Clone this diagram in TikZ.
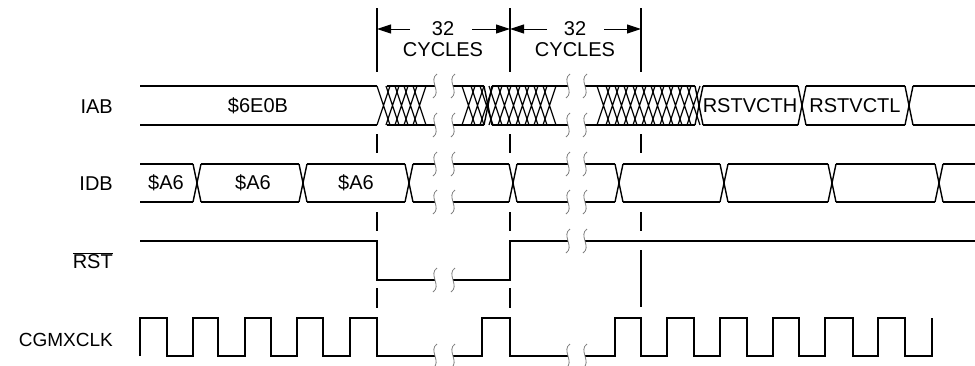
\documentclass[tikz,border=0pt]{standalone}
\usepackage{fontspec}
\setmainfont{Liberation Sans}
\usetikzlibrary{arrows.meta}
\newcommand\busline[4]{\draw[sig] (#1,#3) -- (#2,#3) (#1,#4) -- (#2,#4);}
\newcommand\busx[3]{\draw[trn] (#1,#2) -- ({#1+8},#3) (#1,#3) -- ({#1+8},#2);}
\newcommand\hatchreg[4]{\foreach \i in {0,...,#2}{\draw[hat] ({#1+9*\i},#3) -- ({#1+9*\i+13},#4) ({#1+9*\i},#4) -- ({#1+9*\i+13},#3);}}
\newcommand\brkmark[2]{\draw[brk] ({#1+2},{#2-12}) .. controls ({#1-7},{#2-6}) and ({#1+7},{#2+6}) .. ({#1-2},{#2+12});}
\begin{document}
\begin{tikzpicture}[x=1pt,y=-1pt,
  sig/.style={line width=1.9pt, line cap=butt, line join=miter},
  trn/.style={line width=1.4pt},
  hat/.style={line width=1.2pt},
  guide/.style={line width=1.1pt},
  brk/.style={line width=0.8pt, draw=gray},
  lbl/.style={font=\fontsize{20}{22}\selectfont, inner sep=0pt},
  arr/.style={line width=1pt, -{Triangle[length=14pt,width=9pt]}}]
\useasboundingbox (0,0) rectangle (975,365);

% labels
\node[lbl, anchor=east] (lIAB) at (113,107) {IAB};
\node[lbl, anchor=east] (lIDB) at (113,184) {IDB};
\node[lbl, anchor=east] (lRST) at (113,261) {$\overline{\mbox{RST}}$};
\node[lbl, anchor=east, font=\fontsize{19}{22}\selectfont] (lCLK) at (113,340) {CGMXCLK};

% cycle annotations
\node[lbl] (n32a) at (443,29) {32};
\node[lbl] (cya) at (443,50) {CYCLES};
\node[lbl] (n32b) at (575,29) {32};
\node[lbl] (cyb) at (575,50) {CYCLES};
\coordinate (a1s) at (410,29); \coordinate (a1e) at (377,29);
\coordinate (a2s) at (472,29); \coordinate (a2e) at (510,29);
\coordinate (a3s) at (547,29); \coordinate (a3e) at (510,29);
\coordinate (a4s) at (604,29); \coordinate (a4e) at (641,29);
\draw[arr] (a1s) -- (a1e);
\draw[arr] (a2s) -- (a2e);
\draw[arr] (a3s) -- (a3e);
\draw[arr] (a4s) -- (a4e);

% guide lines
\foreach \x in {377,510,641}{
  \draw[guide] (\x,8) -- (\x,72);
  \draw[guide] (\x,134) -- (\x,153);
  \draw[guide] (\x,212) -- (\x,231);
}
\draw[guide] (377,288) -- (377,308);
\draw[guide] (510,288) -- (510,308);
\draw[guide] (641,250) -- (641,307);

% IAB
\busline{140}{377}{86}{125}
\busline{387}{435}{86}{125}
\busline{453}{484}{86}{125}
\busline{492}{568}{86}{125}
\busline{585}{695}{86}{125}
\busline{703}{798}{86}{125}
\busline{806}{905}{86}{125}
\busline{913}{975}{86}{125}
\hatchreg{377}{4}{86}{125}
\hatchreg{462}{9}{86}{125}
\hatchreg{597}{10}{86}{125}
\busx{484}{86}{125}
\busx{695}{86}{125}
\busx{798}{86}{125}
\busx{905}{86}{125}
\node[lbl] (t1) at (258,106) {\$6E0B};
\node[lbl] (t5) at (750,106) {RSTVCTH};
\node[lbl] (t6) at (855,106) {RSTVCTL};

% IDB
\busline{140}{193}{164}{202}
\busline{201}{299}{164}{202}
\busline{307}{405}{164}{202}
\busline{413}{435}{164}{202}
\busline{453}{509}{164}{202}
\busline{517}{568}{164}{202}
\busline{585}{615}{164}{202}
\busline{623}{720}{164}{202}
\busline{728}{828}{164}{202}
\busline{836}{935}{164}{202}
\busline{943}{975}{164}{202}
\foreach \x in {193,299,405,509,615,720,828,935}{\busx{\x}{164}{202}}
\node[lbl] (t2) at (166,183) {\$A6};
\node[lbl] (t3) at (253,183) {\$A6};
\node[lbl] (t4) at (356,183) {\$A6};

% RST
\draw[sig] (140,241) -- (377,241) -- (377,280) -- (435,280);
\draw[sig] (453,280) -- (510,280) -- (510,241) -- (568,241);
\draw[sig] (585,241) -- (975,241);

% CGMXCLK
\draw[sig] (140,356) -- (140,318) -- (167,318) -- (167,356) -- (193,356) -- (193,318)
  -- (218,318) -- (218,356) -- (245,356) -- (245,318) -- (271,318) -- (271,356)
  -- (297,356) -- (297,318) -- (323,318) -- (323,356) -- (350,356) -- (350,318)
  -- (377,318) -- (377,356) -- (435,356);
\draw[sig] (453,356) -- (482,356) -- (482,318) -- (510,318) -- (510,356) -- (568,356);
\draw[sig] (585,356) -- (615,356) -- (615,318) -- (641,318) -- (641,356) -- (667,356)
  -- (667,318) -- (694,318) -- (694,356) -- (720,356) -- (720,318) -- (747,318)
  -- (747,356) -- (773,356) -- (773,318) -- (799,318) -- (799,356) -- (825,356)
  -- (825,318) -- (853,318) -- (853,356) -- (878,356) -- (878,318) -- (905,318)
  -- (905,356) -- (932,356) -- (932,318);

% break marks
\foreach \x in {435,453}{
  \brkmark{\x}{86} \brkmark{\x}{125} \brkmark{\x}{164} \brkmark{\x}{202}
  \brkmark{\x}{280} \brkmark{\x}{356}
}
\foreach \x in {568,585}{
  \brkmark{\x}{86} \brkmark{\x}{125} \brkmark{\x}{164} \brkmark{\x}{202}
  \brkmark{\x}{241} \brkmark{\x}{356}
}
\end{tikzpicture}
\end{document}
